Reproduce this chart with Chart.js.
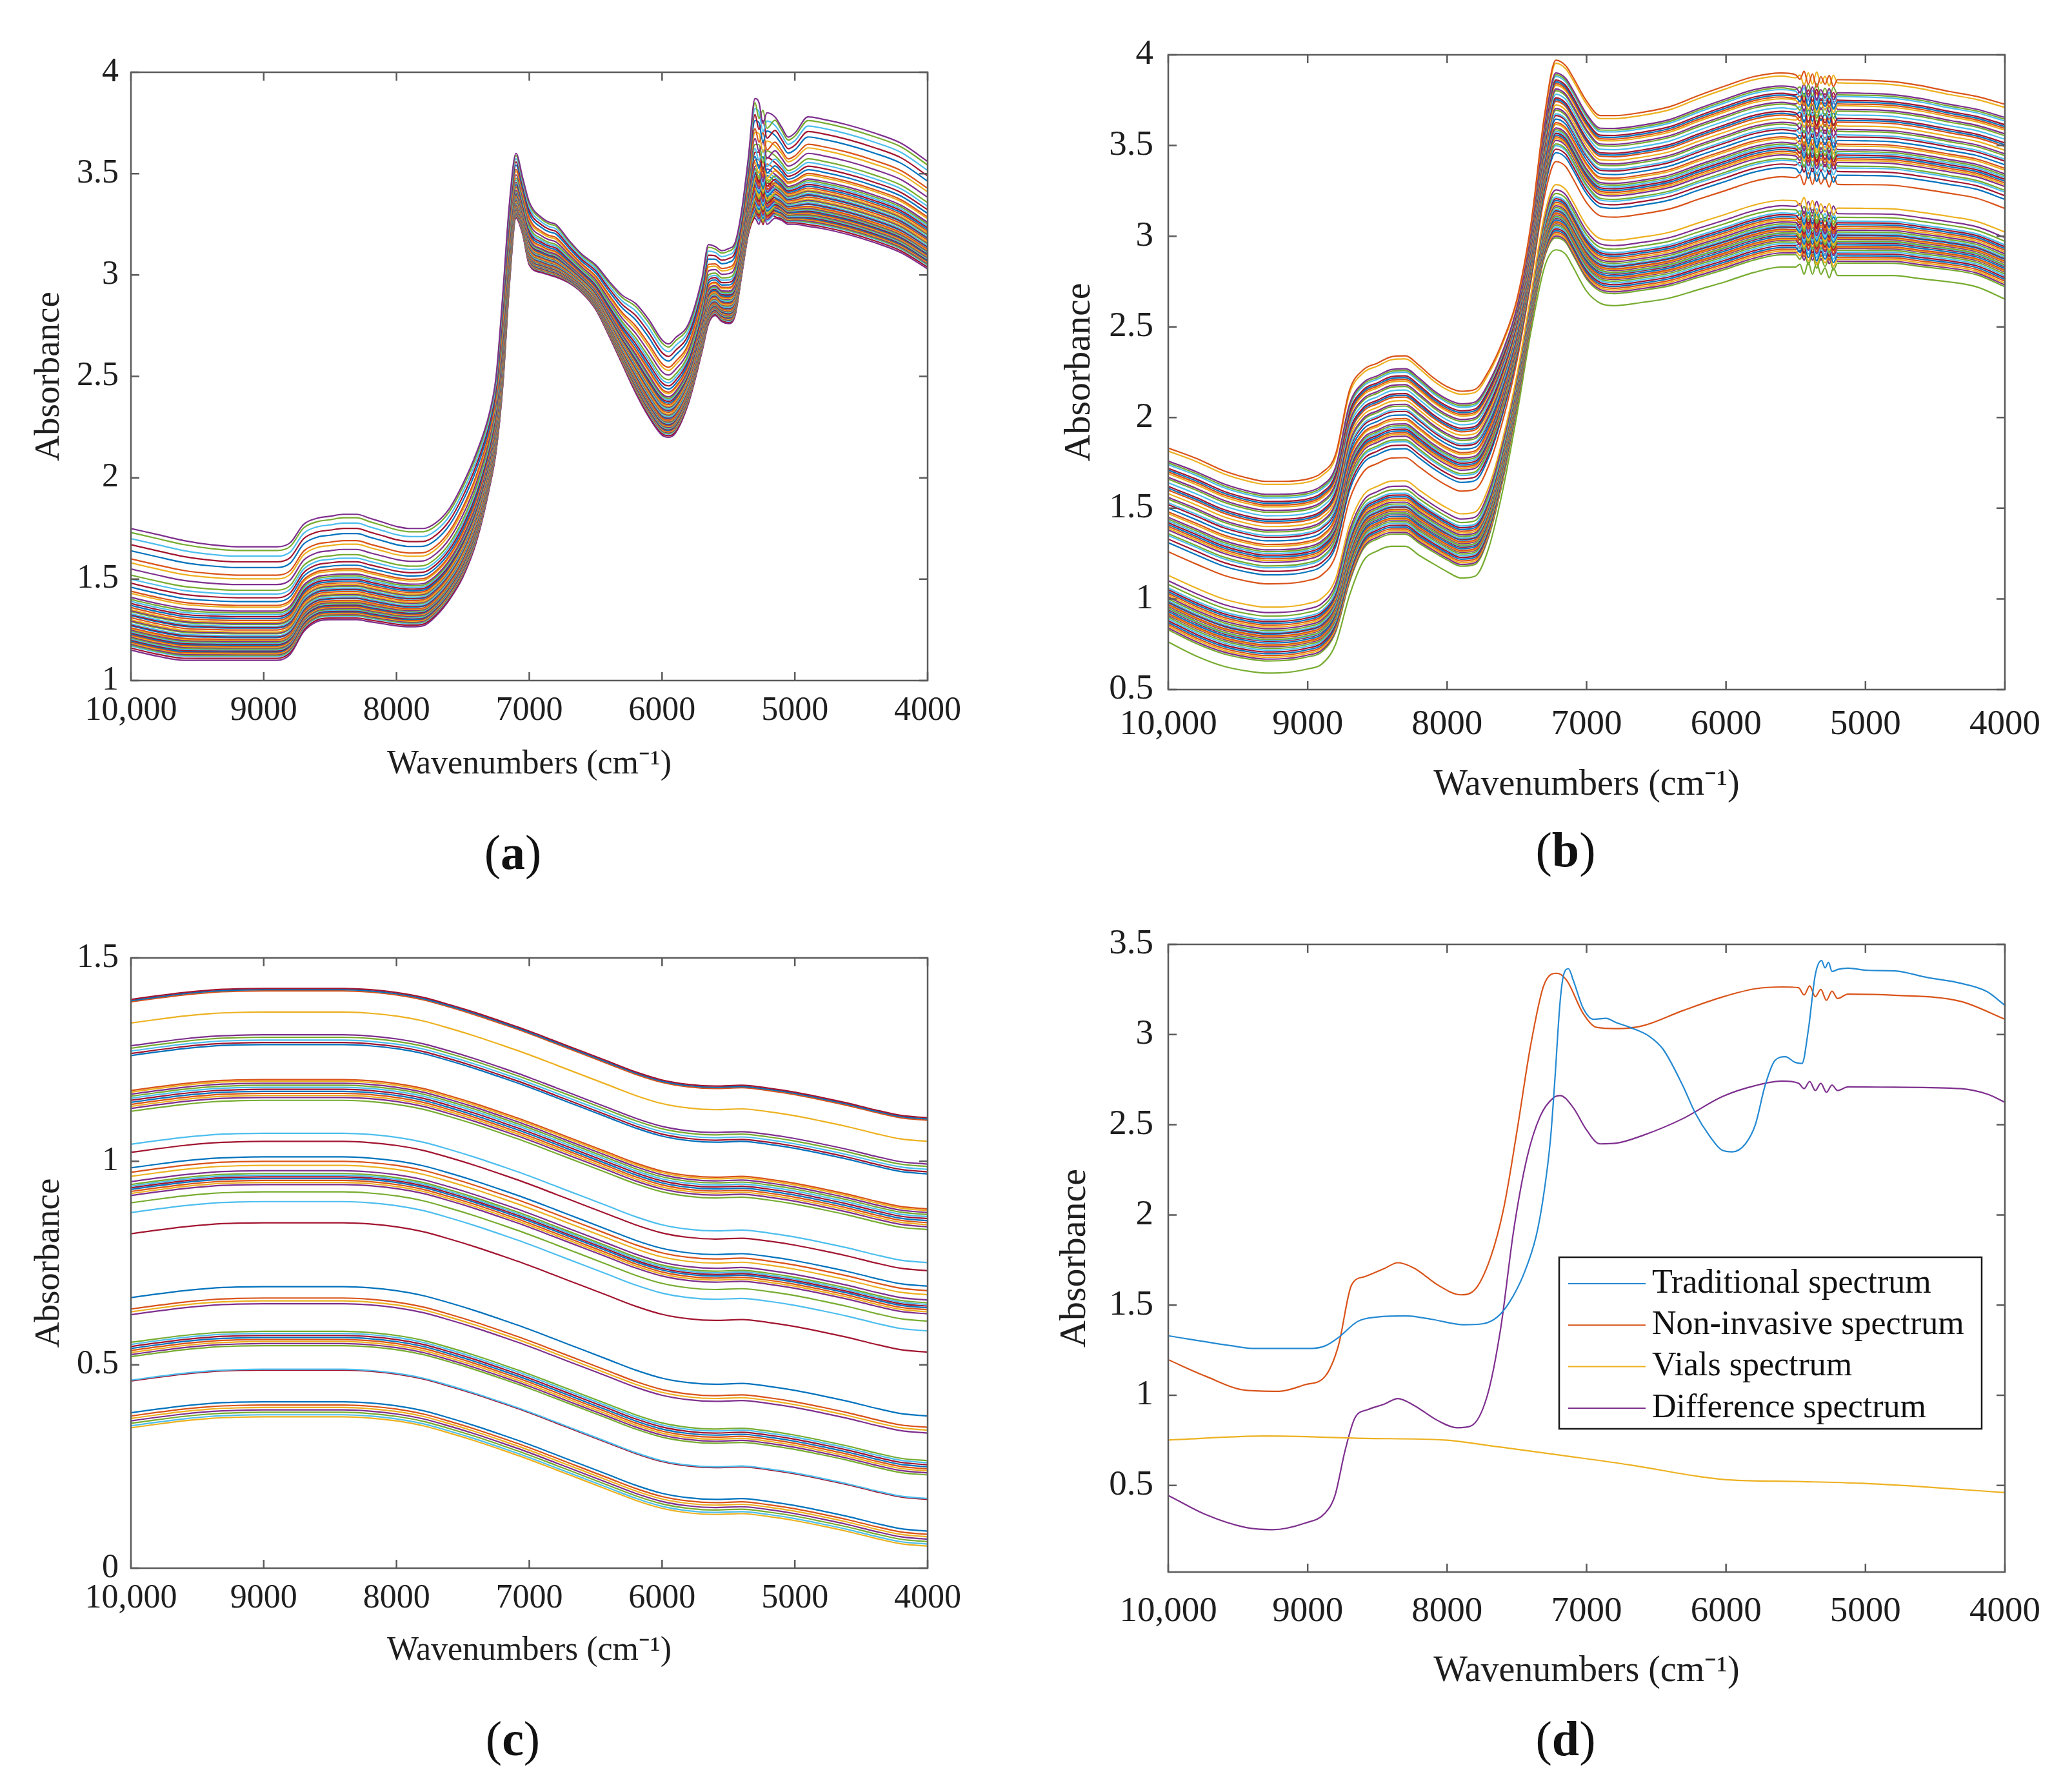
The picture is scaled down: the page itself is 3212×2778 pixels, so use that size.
<!doctype html>
<html>
<head>
<meta charset="utf-8">
<title>NIR spectra</title>
<script src="https://cdn.jsdelivr.net/npm/chart.js@4.4.1/dist/chart.umd.min.js"></script>
<style>
  body { margin: 0; width: 3212px; height: 2778px; background: #fff; position: relative; overflow: hidden; }
  canvas { position: absolute; }
  .tag { position: absolute; font-family: "Liberation Serif", serif; font-size: 76px; color: #111; transform: translate(-50%, -50%); }
</style>
</head>
<body>

<canvas id="pa"></canvas>
<canvas id="pb"></canvas>
<canvas id="pc"></canvas>
<canvas id="pd"></canvas>
<div class="tag" style="left:795px;top:1321px">(<b>a</b>)</div>
<div class="tag" style="left:2427px;top:1317px">(<b>b</b>)</div>
<div class="tag" style="left:795px;top:2695px">(<b>c</b>)</div>
<div class="tag" style="left:2427px;top:2695px">(<b>d</b>)</div>

<script>
// ---- panel (a): traditional spectra, upper / lower edge of the bundle + start levels
const aWave = [10000, 9800, 9600, 9400, 9200, 9000, 8900, 8800, 8700, 8600, 8500, 8400, 8300, 8200, 8100,
  8000, 7900, 7800, 7700, 7600, 7500, 7400, 7300, 7250, 7200, 7150, 7100, 7050, 7000, 6900, 6850, 6800,
  6700, 6600, 6500, 6400, 6300, 6200, 6100, 6000, 5950, 5900, 5800, 5700, 5650, 5600, 5550, 5500, 5450,
  5400, 5350, 5300, 5270, 5240, 5210, 5150, 5100, 5050, 5000, 4900, 4800, 4600, 4400, 4200, 4000];
const aTop = [1.75, 1.72, 1.69, 1.67, 1.66, 1.66, 1.66, 1.68, 1.77, 1.80, 1.81, 1.82, 1.82, 1.80, 1.78,
  1.76, 1.75, 1.75, 1.78, 1.85, 1.97, 2.12, 2.32, 2.50, 2.90, 3.35, 3.60, 3.48, 3.36, 3.28, 3.26, 3.25,
  3.17, 3.10, 3.05, 2.97, 2.90, 2.86, 2.78, 2.68, 2.66, 2.69, 2.76, 2.98, 3.15, 3.14, 3.12, 3.13, 3.16,
  3.32, 3.58, 3.87, 3.82, 3.79, 3.77, 3.78, 3.73, 3.68, 3.70, 3.78, 3.77, 3.74, 3.70, 3.65, 3.56];
const aBot = [1.15, 1.12, 1.10, 1.10, 1.10, 1.10, 1.10, 1.13, 1.24, 1.29, 1.30, 1.30, 1.30, 1.29, 1.28,
  1.27, 1.265, 1.27, 1.32, 1.40, 1.51, 1.68, 1.95, 2.13, 2.45, 2.95, 3.28, 3.20, 3.05, 3.01, 3.00, 2.99,
  2.96, 2.91, 2.83, 2.70, 2.56, 2.42, 2.30, 2.21, 2.20, 2.22, 2.37, 2.62, 2.76, 2.80, 2.77, 2.76, 2.80,
  3.00, 3.20, 3.28, 3.28, 3.28, 3.28, 3.28, 3.27, 3.25, 3.25, 3.24, 3.23, 3.20, 3.16, 3.11, 3.03];
const aStart = [1.75, 1.73, 1.70, 1.67, 1.64, 1.60, 1.58, 1.55, 1.52, 1.50, 1.48, 1.46, 1.44, 1.43, 1.41,
  1.40, 1.39, 1.38, 1.37, 1.36, 1.35, 1.345, 1.34, 1.33, 1.325, 1.32, 1.31, 1.30, 1.295, 1.29, 1.28,
  1.275, 1.27, 1.26, 1.255, 1.25, 1.245, 1.24, 1.235, 1.23, 1.225, 1.22, 1.215, 1.21, 1.205, 1.20,
  1.195, 1.19, 1.185, 1.18, 1.175, 1.17, 1.16, 1.15];
const aNoiseX = [5270, 5240, 5210];
const aNoiseY = [0.03, -0.04, 0.03];

// ---- panel (b): non-invasive spectra
const bWave = [10000, 9800, 9600, 9400, 9300, 9200, 9000, 8900, 8800, 8700, 8600, 8500, 8400, 8300, 8200,
  8100, 8000, 7900, 7800, 7700, 7600, 7500, 7400, 7300, 7220, 7150, 7100, 7000, 6900, 6800, 6600, 6400,
  6200, 6000, 5800, 5600, 5500, 5470, 5440, 5410, 5380, 5350, 5320, 5290, 5260, 5230, 5200, 5000, 4800,
  4600, 4400, 4200, 4000];
const bTop = [1.832, 1.775, 1.706, 1.661, 1.648, 1.648, 1.661, 1.695, 1.797, 2.15, 2.264, 2.30, 2.335, 2.34, 2.287,
  2.22, 2.17, 2.145, 2.155, 2.26, 2.424, 2.65, 3.06, 3.676, 3.97, 3.94, 3.88, 3.745, 3.665, 3.665, 3.683, 3.715,
  3.775, 3.83, 3.88, 3.90, 3.89, 3.885, 3.88, 3.878, 3.875, 3.872, 3.87, 3.868, 3.866, 3.865, 3.863, 3.86, 3.852,
  3.83, 3.798, 3.77, 3.727];
const bBot = [0.762, 0.685, 0.628, 0.598, 0.591, 0.592, 0.614, 0.64, 0.75, 1.02, 1.21, 1.265, 1.29, 1.29, 1.24,
  1.194, 1.15, 1.115, 1.125, 1.285, 1.604, 2.014, 2.47, 2.834, 2.925, 2.90, 2.834, 2.697, 2.63, 2.617, 2.635, 2.66,
  2.705, 2.75, 2.80, 2.83, 2.83, 2.825, 2.82, 2.815, 2.81, 2.805, 2.80, 2.795, 2.79, 2.785, 2.783, 2.783, 2.783,
  2.765, 2.748, 2.72, 2.653];
const bStart = [1.832, 1.815, 1.76, 1.75, 1.74, 1.72, 1.71, 1.70, 1.69, 1.67, 1.66, 1.64, 1.62, 1.61, 1.60,
  1.58, 1.56, 1.55, 1.53, 1.52, 1.50, 1.48, 1.47, 1.45, 1.44, 1.43, 1.42, 1.41, 1.40, 1.39, 1.38, 1.36,
  1.35, 1.33, 1.31, 1.26,
  1.13, 1.10, 1.08, 1.06, 1.05, 1.04, 1.03, 1.02, 1.01, 1.00, 0.99, 0.985, 0.98, 0.97, 0.965, 0.96,
  0.95, 0.945, 0.94, 0.93, 0.92, 0.915, 0.91, 0.90, 0.89, 0.88, 0.87, 0.86, 0.85, 0.84, 0.83, 0.762];
const bNoiseX = [5470, 5440, 5410, 5380, 5350, 5320, 5290, 5260, 5230];
const bNoiseY = [-0.02, 0.03, -0.04, 0.02, -0.05, 0.01, -0.03, 0.02, -0.04];

// ---- panel (c): vials spectra, level at 9000 cm-1 + common shape
const cWave = [10000, 9800, 9600, 9400, 9200, 9000, 8800, 8600, 8400, 8200, 8000, 7800, 7600, 7400, 7200,
  7000, 6800, 6600, 6400, 6200, 6000, 5800, 5600, 5400, 5200, 5000, 4800, 4600, 4400, 4200, 4000];
const cShape = [-0.027, -0.018, -0.010, -0.004, -0.001, 0, 0, 0, 0, -0.003, -0.010, -0.022, -0.040, -0.060, -0.082,
  -0.105, -0.130, -0.155, -0.180, -0.205, -0.225, -0.236, -0.240, -0.238, -0.245, -0.255, -0.268, -0.282, -0.298, -0.312, -0.318];
const cLevel = [1.425, 1.422, 1.419, 1.367, 1.311, 1.305, 1.298, 1.292, 1.287, 1.201, 1.197, 1.192, 1.187,
  1.182, 1.177, 1.172, 1.167, 1.162, 1.157, 1.150, 1.069, 1.049, 1.011, 1.000, 0.990, 0.977, 0.970, 0.966,
  0.962, 0.958, 0.953, 0.948, 0.943, 0.925, 0.901, 0.849, 0.692, 0.664, 0.657, 0.650, 0.582, 0.577, 0.572,
  0.567, 0.562, 0.557, 0.552, 0.547, 0.489, 0.487, 0.409, 0.401, 0.395, 0.389, 0.383, 0.377, 0.372];

// ---- panel (d): the four spectra
const dLabels = ['Traditional spectrum', 'Non-invasive spectrum', 'Vials spectrum', 'Difference spectrum'];
const dTradX = [10000, 9540, 9400, 8970, 8875, 8780, 8640, 8500, 8300, 8110, 7880, 7740, 7640, 7550, 7450,
  7360, 7310, 7260, 7230, 7190, 7165, 7130, 7095, 7025, 6950, 6860, 6790, 6690, 6550, 6450, 6310, 6220,
  6120, 6030, 5955, 5860, 5790, 5720, 5650, 5575, 5505, 5455, 5410, 5360, 5315, 5290, 5265, 5240, 5195,
  5125, 4980, 4790, 4555, 4320, 4130, 4000];
const dTradY = [1.33, 1.274, 1.26, 1.26, 1.274, 1.32, 1.41, 1.434, 1.44, 1.421, 1.391, 1.397, 1.434, 1.52, 1.673,
  1.888, 2.10, 2.41, 2.72, 3.18, 3.33, 3.365, 3.30, 3.147, 3.085, 3.09, 3.067, 3.04, 2.99, 2.917, 2.717, 2.564,
  2.44, 2.36, 2.35, 2.395, 2.50, 2.717, 2.855, 2.877, 2.846, 2.84, 3.024, 3.331, 3.41, 3.37, 3.40, 3.35, 3.362,
  3.368, 3.356, 3.353, 3.316, 3.285, 3.239, 3.162];
const dNonX = [10000, 9730, 9445, 9207, 9017, 8875, 8780, 8685, 8590, 8448, 8353, 8234, 8068, 7902, 7807,
  7688, 7593, 7498, 7403, 7308, 7213, 7142, 7024, 6929, 6786, 6596, 6312, 6027, 5789, 5600, 5480, 5440,
  5400, 5360, 5320, 5280, 5240, 5200, 5125, 4793, 4318, 4000];
const dNonY = [1.197, 1.105, 1.028, 1.022, 1.059, 1.105, 1.274, 1.612, 1.658, 1.704, 1.735, 1.704, 1.612, 1.557, 1.581,
  1.765, 2.042, 2.47, 2.932, 3.27, 3.34, 3.30, 3.116, 3.04, 3.033, 3.049, 3.132, 3.208, 3.254, 3.264, 3.26, 3.22,
  3.27, 3.21, 3.25, 3.19, 3.24, 3.20, 3.224, 3.218, 3.184, 3.085];
const dVialX = [10000, 9300, 8590, 8020, 7640, 7170, 6690, 6220, 5980, 5500, 5030, 4555, 4000];
const dVialY = [0.752, 0.774, 0.761, 0.752, 0.715, 0.666, 0.614, 0.553, 0.531, 0.522, 0.512, 0.491, 0.46];
const dDiffX = [10000, 9730, 9445, 9255, 9017, 8875, 8804, 8733, 8661, 8566, 8448, 8353, 8234, 8068, 7926,
  7831, 7712, 7617, 7522, 7427, 7332, 7237, 7190, 7095, 7000, 6905, 6786, 6596, 6312, 6027, 5789, 5600,
  5480, 5440, 5400, 5360, 5320, 5280, 5240, 5200, 5125, 4793, 4318, 4128, 4000];
const dDiffY = [0.445, 0.338, 0.267, 0.255, 0.292, 0.347, 0.445, 0.69, 0.875, 0.921, 0.952, 0.982, 0.942, 0.86, 0.82,
  0.829, 0.998, 1.366, 1.919, 2.318, 2.548, 2.65, 2.662, 2.594, 2.471, 2.394, 2.398, 2.441, 2.533, 2.656, 2.717, 2.742,
  2.73, 2.70, 2.74, 2.69, 2.73, 2.68, 2.72, 2.69, 2.71, 2.708, 2.70, 2.67, 2.625];

const FONT = '"Liberation Serif", "Times New Roman", serif';
const INK = '#1e1e1e';
const colors = ['#0072BD', '#D95319', '#EDB120', '#7E2F8E', '#77AC30', '#4DBEEE', '#A2142F'];
const dColors = ['#2389d2', '#D95319', '#EDB120', '#7E2F8E'];

Chart.defaults.font.family = FONT;

// bundle of spectra between lower and upper edge, placed by start level
function bundle(wave, top, bot, starts, noiseX, noiseY) {
    return starts.map(function(s, i) {
        var t = (s - bot[0]) / (top[0] - bot[0]);
        var sign = i % 2 ? -1 : 1;
        return wave.map(function(w, k) {
            var j = noiseX.indexOf(w);
            var n = j < 0 ? 0 : sign * noiseY[j];
            return {x: w, y: bot[k] + t * (top[k] - bot[k]) + n};
        });
    });
}

function pairs(xs, ys) {
    return xs.map(function(x, i) { return {x: x, y: ys[i]}; });
}

function lineSet(points, color, label) {
    return {
        label: label || '',
        data: points,
        borderColor: color,
        borderWidth: 2.2,
        pointRadius: 0,
        fill: false,
        cubicInterpolationMode: 'monotone'
    };
}

// box round the axes with inward ticks, like matlab
const boxPlugin = {
    id: 'matlabBox',
    afterDatasetsDraw: function(chart) {
        var ctx = chart.ctx, a = chart.chartArea, sx = chart.scales.x, sy = chart.scales.y;
        ctx.save();
        ctx.strokeStyle = '#5b5b5b';
        ctx.lineWidth = 2.5;
        ctx.strokeRect(a.left, a.top, a.right - a.left, a.bottom - a.top);
        ctx.beginPath();
        sx.ticks.forEach(function(t) {
            var p = sx.getPixelForValue(t.value);
            ctx.moveTo(p, a.bottom); ctx.lineTo(p, a.bottom - 13);
            ctx.moveTo(p, a.top); ctx.lineTo(p, a.top + 13);
        });
        sy.ticks.forEach(function(t) {
            var p = sy.getPixelForValue(t.value);
            ctx.moveTo(a.left, p); ctx.lineTo(a.left + 13, p);
            ctx.moveTo(a.right, p); ctx.lineTo(a.right - 13, p);
        });
        ctx.stroke();
        ctx.restore();
    }
};

// legend box of panel (d)
const legendPlugin = {
    id: 'boxLegend',
    afterDraw: function(chart) {
        if (!chart.options.plugins.boxLegend || !chart.options.plugins.boxLegend.show) return;
        var ctx = chart.ctx, a = chart.chartArea;
        var lx = a.right - 691, ly = a.top + 485, lw = 655, lh = 266;
        ctx.save();
        ctx.fillStyle = '#fff';
        ctx.fillRect(lx, ly, lw, lh);
        ctx.strokeStyle = '#1a1a1a';
        ctx.lineWidth = 2.5;
        ctx.strokeRect(lx, ly, lw, lh);
        ctx.font = '52px ' + FONT;
        ctx.textBaseline = 'middle';
        ctx.fillStyle = '#111';
        chart.data.datasets.forEach(function(ds, i) {
            var yy = ly + 41 + i * 64.3;
            ctx.strokeStyle = ds.borderColor;
            ctx.lineWidth = 2;
            ctx.beginPath();
            ctx.moveTo(lx + 14, yy); ctx.lineTo(lx + 134, yy);
            ctx.stroke();
            ctx.fillText(ds.label, lx + 144, yy);
        });
        ctx.restore();
    }
};

function makePanel(id, datasets, p) {
    var left = Math.round(p.yTitleX - p.yTitleSize * 0.6);
    var top = p.T - 60;
    var right = p.R + 90;
    var bottom = Math.round(p.xTitleY + p.xTitleSize * 0.6);
    var cv = document.getElementById(id);
    cv.width = right - left;
    cv.height = bottom - top;
    cv.style.left = left + 'px';
    cv.style.top = top + 'px';
    var yW = p.L - left, xH = bottom - p.B;

    new Chart(cv, {
        type: 'line',
        data: {datasets: datasets},
        options: {
            responsive: false,
            devicePixelRatio: 1,
            animation: false,
            events: [],
            layout: {padding: {top: 60, right: 90, left: 0, bottom: 0}},
            plugins: {
                legend: {display: false},
                tooltip: {enabled: false},
                boxLegend: {show: !!p.legend}
            },
            scales: {
                x: {
                    type: 'linear',
                    reverse: true,
                    min: 4000,
                    max: 10000,
                    grid: {display: false, drawTicks: false},
                    border: {display: false},
                    ticks: {
                        stepSize: 1000,
                        padding: p.tickY - p.B - p.tickSize * 0.6,
                        color: INK,
                        font: {size: p.tickSize, lineHeight: 1.2},
                        maxRotation: 0,
                        autoSkip: false,
                        callback: function(v) { return v === 10000 ? '10,000' : String(v); }
                    },
                    title: {
                        display: true,
                        text: 'Wavenumbers (cm\u207B\u00B9)',
                        color: INK,
                        padding: 0,
                        font: {size: p.xTitleSize, lineHeight: 1.2}
                    },
                    afterFit: function(s) { s.height = xH; s.paddingLeft = 0; s.paddingRight = 0; }
                },
                y: {
                    type: 'linear',
                    min: p.yMin,
                    max: p.yMax,
                    grid: {display: false, drawTicks: false},
                    border: {display: false},
                    ticks: {
                        stepSize: 0.5,
                        padding: p.yPad,
                        color: INK,
                        font: {size: p.tickSize, lineHeight: 1.2},
                        callback: function(v) { return String(Math.round(v * 100) / 100); }
                    },
                    afterBuildTicks: p.yTicks ? function(s) {
                        s.ticks = p.yTicks.map(function(v) { return {value: v}; });
                    } : undefined,
                    title: {
                        display: true,
                        text: 'Absorbance',
                        color: INK,
                        padding: 0,
                        font: {size: p.yTitleSize, lineHeight: 1.2}
                    },
                    afterFit: function(s) { s.width = yW; s.paddingTop = 0; s.paddingBottom = 0; }
                }
            }
        },
        plugins: [boxPlugin, legendPlugin]
    });
}

// colour of each spectrum: matlab order, with the outer spectra as in the figure
function bundleColor(i, n, offset, firstColor, lastColor) {
    if (i === 0) return firstColor;
    if (i === n - 1) return lastColor;
    return colors[(i + offset) % 7];
}

var aSets = bundle(aWave, aTop, aBot, aStart, aNoiseX, aNoiseY).map(function(pts, i) {
    return lineSet(pts, bundleColor(i, aStart.length, 3, '#7E2F8E', '#7E2F8E'));
});
var bSets = bundle(bWave, bTop, bBot, bStart, bNoiseX, bNoiseY).map(function(pts, i) {
    return lineSet(pts, bundleColor(i, bStart.length, 1, '#D95319', '#77AC30'));
});
var cSets = cLevel.map(function(l, i) {
    var pts = cWave.map(function(w, k) { return {x: w, y: l + cShape[k]}; });
    return lineSet(pts, bundleColor(i, cLevel.length, 6, '#A2142F', '#EDB120'));
});
var dSets = [
    lineSet(pairs(dTradX, dTradY), dColors[0], dLabels[0]),
    lineSet(pairs(dNonX, dNonY), dColors[1], dLabels[1]),
    lineSet(pairs(dVialX, dVialY), dColors[2], dLabels[2]),
    lineSet(pairs(dDiffX, dDiffY), dColors[3], dLabels[3])
];

makePanel('pa', aSets, {L: 203, T: 112, R: 1438, B: 1055, yMin: 1, yMax: 4, yTitleX: 77, tickY: 1102,
    xTitleY: 1186, tickSize: 52, xTitleSize: 52, yTitleSize: 55, yPad: 19});
makePanel('pb', bSets, {L: 1811, T: 85, R: 3108, B: 1069, yMin: 0.5, yMax: 4, yTitleX: 1674, tickY: 1124,
    xTitleY: 1217, tickSize: 55, xTitleSize: 56, yTitleSize: 58, yPad: 23});
makePanel('pc', cSets, {L: 203, T: 1485, R: 1438, B: 2431, yMin: 0, yMax: 1.5, yTitleX: 77, tickY: 2478,
    xTitleY: 2560, tickSize: 52, xTitleSize: 52, yTitleSize: 55, yPad: 19});
makePanel('pd', dSets, {L: 1811, T: 1464, R: 3108, B: 2437, yMin: 0.02, yMax: 3.5, yTitleX: 1667, tickY: 2499,
    xTitleY: 2591, tickSize: 55, xTitleSize: 56, yTitleSize: 58, yPad: 23,
    yTicks: [0.5, 1, 1.5, 2, 2.5, 3, 3.5], legend: true});
</script>
</body>
</html>
